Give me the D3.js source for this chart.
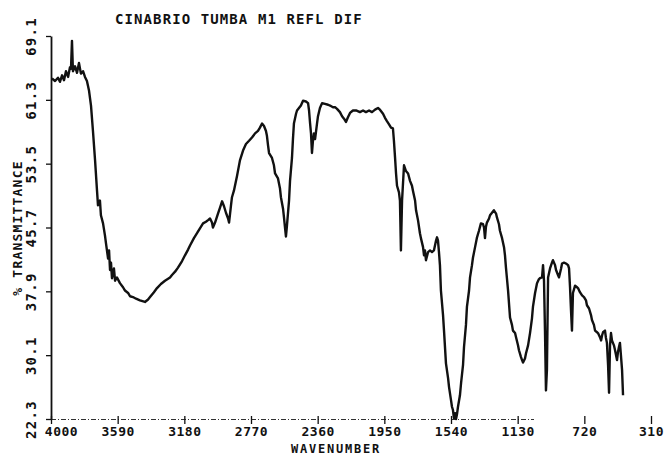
<!DOCTYPE html>
<html>
<head>
<meta charset="utf-8">
<script src="https://cdn.jsdelivr.net/npm/d3@7"></script>
<style>
  body { margin: 0; background: #fff; }
  text { font-family: "DejaVu Sans Mono", monospace; font-weight: bold; fill: #111; }
</style>
</head>
<body>
<div id="figure"></div>
<script>
const width = 664,
      height = 456;

// Spectrum: wavenumber (cm-1) and % transmittance.
const wavenumber = [
  3994, 3975, 3957, 3945, 3932, 3920, 3908, 3895, 3883, 3877, 3871, 3865, 3852, 3840, 3828, 3816,
  3803, 3791, 3779, 3766, 3754, 3742, 3729, 3717, 3711, 3699, 3693, 3680, 3668, 3662, 3649, 3643,
  3637, 3631, 3625, 3613, 3606, 3594, 3576, 3557, 3545, 3526, 3514, 3496, 3477, 3453, 3422, 3403,
  3391, 3367, 3348, 3324, 3299, 3268, 3256, 3237, 3219, 3194, 3176, 3157, 3145, 3121, 3102, 3084,
  3065, 3047, 3034, 3022, 3010, 3004, 2991, 2973, 2961, 2948, 2936, 2924, 2911, 2905, 2893, 2887,
  2875, 2856, 2838, 2819, 2801, 2782, 2764, 2745, 2727, 2715, 2702, 2690, 2678, 2672, 2665, 2659,
  2641, 2629, 2622, 2604, 2592, 2586, 2573, 2567, 2561, 2555, 2549, 2536, 2530, 2518, 2512, 2506,
  2493, 2487, 2475, 2463, 2450, 2432, 2419, 2413, 2407, 2401, 2395, 2389, 2383, 2376, 2364, 2358,
  2346, 2333, 2315, 2296, 2284, 2266, 2253, 2241, 2223, 2210, 2198, 2186, 2173, 2161, 2143, 2124,
  2100, 2081, 2063, 2044, 2026, 2007, 1989, 1977, 1958, 1946, 1934, 1921, 1909, 1897, 1891, 1884,
  1878, 1872, 1860, 1854, 1848, 1841, 1829, 1817, 1804, 1792, 1780, 1774, 1761, 1755, 1743, 1731,
  1725, 1712, 1706, 1700, 1694, 1681, 1669, 1657, 1645, 1632, 1626, 1620, 1614, 1608, 1602, 1589,
  1583, 1571, 1558, 1552, 1540, 1534, 1528, 1522, 1515, 1509, 1503, 1497, 1485, 1478, 1466, 1460,
  1448, 1442, 1429, 1423, 1411, 1405, 1392, 1380, 1368, 1356, 1343, 1337, 1331, 1325, 1319, 1306,
  1300, 1288, 1276, 1263, 1257, 1245, 1239, 1226, 1214, 1208, 1202, 1196, 1189, 1177, 1165, 1159,
  1146, 1140, 1128, 1122, 1110, 1103, 1097, 1085, 1079, 1066, 1054, 1042, 1036, 1023, 1011, 999,
  993, 980, 974, 968, 962, 956, 950, 943, 931, 919, 913, 900, 894, 882, 876, 863,
  857, 845, 833, 820, 814, 808, 802, 796, 790, 777, 765, 759, 747, 734, 722, 710,
  704, 691, 679, 673, 661, 654, 642, 636, 624, 617, 611, 605, 593, 587, 581, 574,
  568, 562, 556, 550, 538, 531, 519, 513, 507, 501, 495, 488, 482
];
const transmittance = [
  63.9, 63.6, 64.0, 63.5, 64.3, 63.7, 64.8, 64.1, 65.3, 65.1, 68.5, 64.8, 65.4, 64.6, 65.8, 64.5,
  64.8, 64.1, 63.6, 62.4, 60.6, 57.5, 53.9, 50.2, 48.4, 49.0, 47.2, 46.2, 44.7, 43.8, 41.9, 42.9,
  40.5, 41.4, 39.5, 40.7, 39.2, 39.6, 38.9, 38.4, 38.0, 37.7, 37.3, 37.2, 37.0, 36.8, 36.6, 36.9,
  37.2, 37.8, 38.3, 38.8, 39.2, 39.6, 39.9, 40.3, 40.8, 41.6, 42.3, 43.0, 43.5, 44.4, 45.0, 45.6,
  46.2, 46.4, 46.6, 46.8, 46.3, 45.7, 46.3, 47.4, 48.1, 48.9, 48.3, 47.5, 46.8, 46.3, 48.4, 49.4,
  50.2, 52.0, 53.9, 55.1, 55.9, 56.3, 56.7, 57.2, 57.5, 57.9, 58.4, 58.1, 57.5, 56.9, 55.7, 54.8,
  54.2, 53.3, 52.3, 51.7, 50.5, 49.4, 48.0, 46.9, 45.7, 44.6, 45.9, 49.0, 51.4, 54.2, 56.5, 58.4,
  59.6, 60.0, 60.3, 60.6, 61.2, 61.1, 60.9, 60.0, 58.5, 57.2, 54.8, 56.3, 57.2, 56.5, 58.4, 59.3,
  60.3, 60.9, 60.8, 60.7, 60.6, 60.4, 60.4, 60.2, 59.8, 59.3, 59.0, 58.6, 59.2, 59.7, 60.0, 60.0,
  59.8, 60.0, 59.8, 60.0, 59.8, 60.1, 60.3, 60.1, 59.6, 59.1, 58.7, 58.3, 57.9, 57.8, 56.3, 54.2,
  52.3, 50.8, 50.0, 49.0, 42.9, 49.0, 53.3, 52.6, 52.3, 51.4, 50.8, 50.2, 49.0, 47.8, 46.6, 45.0,
  44.4, 43.3, 42.3, 42.9, 41.7, 42.7, 42.9, 42.7, 42.9, 44.1, 44.5, 44.1, 42.7, 41.1, 38.0, 35.0,
  33.1, 29.1, 27.3, 26.2, 24.6, 23.8, 23.4, 22.4, 23.0, 22.3, 22.9, 23.8, 25.2, 26.7, 28.9, 31.1,
  33.8, 36.0, 38.0, 39.6, 41.1, 42.0, 43.3, 44.5, 45.3, 46.2, 46.1, 45.7, 44.4, 45.8, 46.3, 46.8,
  47.2, 47.5, 47.8, 47.4, 46.9, 46.1, 45.3, 44.4, 43.3, 42.3, 40.8, 39.5, 38.0, 34.7, 33.8, 33.1,
  32.8, 32.3, 31.3, 30.7, 29.9, 29.5, 29.2, 29.7, 30.3, 31.3, 32.8, 34.6, 36.0, 37.7, 38.9, 39.4,
  39.5, 39.6, 41.1, 39.2, 33.1, 25.8, 28.3, 39.6, 40.7, 41.4, 41.7, 41.1, 40.5, 39.9, 39.6, 40.7,
  41.3, 41.4, 41.3, 41.1, 40.7, 38.4, 35.6, 33.1, 37.7, 38.6, 38.4, 38.3, 37.8, 37.4, 37.2, 36.8,
  36.2, 35.8, 35.0, 34.4, 33.8, 33.1, 32.9, 32.8, 32.3, 31.9, 32.5, 32.9, 33.1, 32.2, 31.6, 28.9,
  25.5, 31.3, 32.8, 31.9, 31.3, 30.7, 29.5, 30.5, 31.1, 31.6, 30.1, 28.3, 25.2
];

const xTicks = [4000, 3590, 3180, 2770, 2360, 1950, 1540, 1130, 720, 310];
const yTicks = [22.3, 30.1, 37.9, 45.7, 53.5, 61.3, 69.1];

const title = "CINABRIO TUMBA M1 REFL DIF";
const xTitle = "WAVENUMBER";
const yTitle = "% TRANSMITTANCE";

const svg = d3.select("#figure").append("svg")
    .attr("width", width)
    .attr("height", height);

svg.append("rect")
    .attr("width", width)
    .attr("height", height)
    .attr("fill", "#fff");

// Scales: wavenumber runs right-to-left like on the plotter chart.
const xscale = d3.scaleLinear()
    .domain([4000, 310])
    .range([51, 651]);

const yscale = d3.scaleLinear()
    .domain([22.3, 69.1])
    .range([419, 36]);

// Bottom axis: dash-dot baseline that stops short, small ticks, labels.
svg.append("line")
    .attr("x1", xscale(4000))
    .attr("x2", 534)
    .attr("y1", yscale(22.3) + 0.5)
    .attr("y2", yscale(22.3) + 0.5)
    .attr("stroke", "#333")
    .attr("stroke-width", 1.2)
    .attr("stroke-dasharray", "5,2,1,2");

svg.append("g")
    .attr("transform", `translate(0,${yscale(22.3)})`)
    .call(d3.axisBottom(xscale)
        .tickValues(xTicks)
        .tickFormat(d3.format("d"))
        .tickSize(5)
        .tickPadding(3))
    .call(g => g.select(".domain").remove())
    .call(g => g.selectAll(".tick line")
        .attr("y1", -3)
        .attr("stroke", "#111")
        .attr("stroke-width", 1.3))
    .call(g => g.selectAll(".tick text")
        .attr("font-size", 13)
        .attr("letter-spacing", 0.5)
        .attr("font-family", null)
        .attr("fill", null))
    .call(g => g.select(".tick text").attr("dx", 10));

// Left axis: solid line, ticks outward, rotated labels.
svg.append("g")
    .attr("transform", `translate(${xscale(4000)},0)`)
    .call(d3.axisLeft(yscale)
        .tickValues(yTicks)
        .tickFormat(d3.format(".1f"))
        .tickSize(5)
        .tickSizeOuter(0))
    .call(g => g.select(".domain")
        .attr("stroke", "#111")
        .attr("stroke-width", 1.8))
    .call(g => g.selectAll(".tick line")
        .attr("stroke", "#111")
        .attr("stroke-width", 1.3))
    .call(g => g.selectAll(".tick text")
        .attr("x", null)
        .attr("dy", null)
        .attr("font-size", 14)
        .attr("letter-spacing", 1.3)
        .attr("font-family", null)
        .attr("fill", null)
        .attr("text-anchor", "middle")
        .attr("transform", "translate(-15,0) rotate(-90)"));

// Titles.
svg.append("text")
    .attr("x", 115)
    .attr("y", 24)
    .attr("font-size", 14)
    .attr("letter-spacing", 1.1)
    .text(title);

svg.append("text")
    .attr("x", 336)
    .attr("y", 453)
    .attr("text-anchor", "middle")
    .attr("font-size", 12)
    .attr("letter-spacing", 1.8)
    .text(xTitle);

svg.append("text")
    .attr("transform", "translate(22,228) rotate(-90)")
    .attr("text-anchor", "middle")
    .attr("font-size", 13)
    .attr("letter-spacing", 1.2)
    .text(yTitle);

// The trace.
const points = wavenumber.map((w, i) => [w, transmittance[i]]);

svg.append("path")
    .datum(points)
    .attr("fill", "none")
    .attr("stroke", "#111")
    .attr("stroke-width", 2.4)
    .attr("stroke-linejoin", "round")
    .attr("d", d3.line()
        .x(d => xscale(d[0]))
        .y(d => yscale(d[1])));
</script>
</body>
</html>
